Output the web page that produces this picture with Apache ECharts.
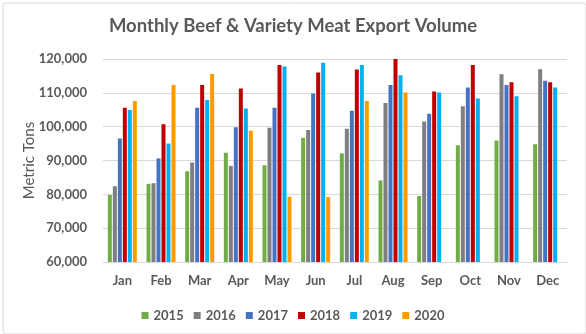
<!DOCTYPE html>
<html><head><meta charset="utf-8">
<script src="https://cdn.jsdelivr.net/npm/echarts@6/dist/echarts.min.js"></script>
<style>html,body{margin:0;padding:0;background:#fff}#c{width:586px;height:334px}</style>
</head><body><div id="c"></div>
<script>
const months = ['Jan','Feb','Mar','Apr','May','Jun','Jul','Aug','Sep','Oct','Nov','Dec'];
const years = ['2015','2016','2017','2018','2019','2020'];
const v2015 = [79800, 83100, 86800, 92300, 88600, 96700, 92100, 84100, 79500, 94500, 95900, 94800];
const v2016 = [82400, 83300, 89400, 88400, 99700, 99000, 99400, 107000, 101500, 106000, 115500, 117000];
const v2017 = [96500, 90600, 105600, 99800, 105600, 109800, 104700, 112300, 103800, 111600, 112300, 113600];
const v2018 = [105600, 100700, 112300, 111300, 118200, 116000, 116900, 120200, 110400, 118200, 113100, 113100];
const v2019 = [104900, 95000, 107900, 105400, 117800, 118900, 118200, 115200, 110100, 108300, 109000, 111600];
const v2020 = [107600, 112300, 115600, 98800, 79300, 79200, 107600, 110100, null, null, null, null];
const colors = ['#70AD47','#7F7F7F','#4472C4','#C00000','#00B0F0','#FF9900'];
const yTicks = {min: 60000, max: 120000, interval: 10000};
const allVals = [v2015, v2016, v2017, v2018, v2019, v2020];

const chart = echarts.init(document.getElementById('c'), null, {renderer: 'canvas'});
const font = 'Lato, Open Sans, sans-serif';
chart.setOption({
  animation: false,
  color: colors,
  title: {
    text: 'Monthly Beef & Variety Meat Export Volume',
    left: 'center', top: 12,
    textStyle: {fontFamily: font, fontSize: 18.5, fontWeight: 'bold', color: '#595959'}
  },
  graphic: [{
    type: 'rect', left: 0.5, top: 0.5, z: -1,
    shape: {width: 583, height: 331, r: 3},
    style: {fill: 'none', stroke: '#D9D9D9', lineWidth: 1}
  }],
  legend: {
    top: 304, left: 'center',
    itemWidth: 7, itemHeight: 7, itemGap: 10,
    icon: 'rect',
    textStyle: {fontFamily: font, fontSize: 13, fontWeight: 'bold', color: '#595959'},
    data: years
  },
  grid: {left: 103, right: 19, top: 59, bottom: 72, containLabel: false},
  xAxis: {
    type: 'category', data: months,
    axisLine: {lineStyle: {color: '#D9D9D9'}},
    axisTick: {show: false},
    axisLabel: {fontFamily: font, fontSize: 13, fontWeight: 'bold', color: '#595959', margin: 12}
  },
  yAxis: {
    type: 'value', min: yTicks.min, max: yTicks.max, interval: yTicks.interval,
    name: 'Metric Tons', nameLocation: 'middle', nameGap: 66, nameRotate: 90,
    nameMoveOverlap: false,
    nameTextStyle: {fontFamily: font, fontSize: 15, color: '#595959'},
    axisLine: {show: false}, axisTick: {show: false},
    splitLine: {lineStyle: {color: '#D9D9D9'}},
    axisLabel: {fontFamily: font, fontSize: 13, fontWeight: 'bold', color: '#595959', margin: 16,
      formatter: v => v.toLocaleString('en-US')}
  },
  series: years.map((y, i) => ({
    name: y, type: 'bar', data: allVals[i],
    barWidth: 4, barGap: '25%'
  }))
});
</script></body></html>
